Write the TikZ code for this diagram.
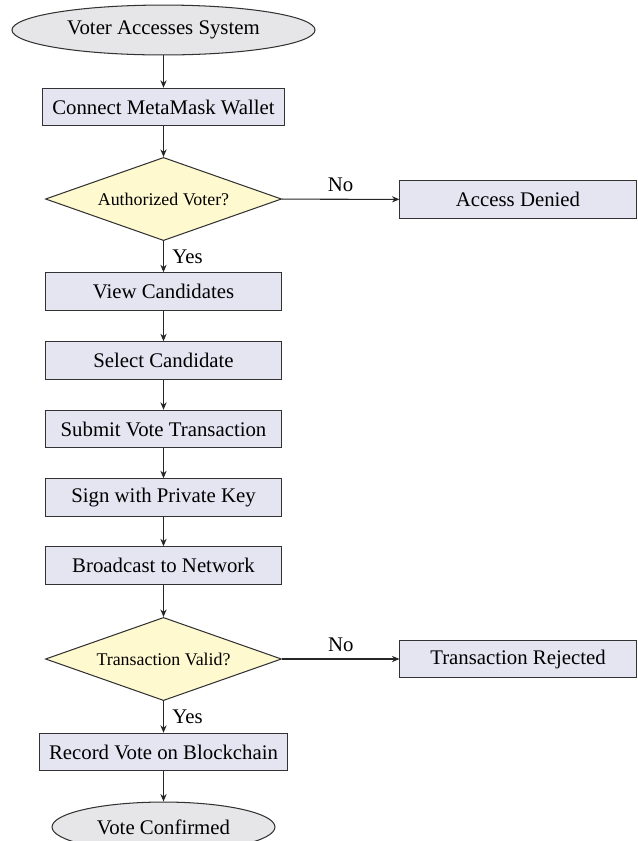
\documentclass[tikz,border=0pt]{standalone}
\usepackage{fontspec}
\setmainfont{Liberation Serif}
\usetikzlibrary{shapes.geometric,arrows.meta}
\definecolor{boxfill}{RGB}{229,229,242}
\definecolor{decfill}{RGB}{255,249,208}
\definecolor{endfill}{RGB}{230,230,232}
\definecolor{edgecol}{RGB}{50,50,50}
\tikzset{
  procbox/.style={rectangle, draw=edgecol, fill=boxfill, line width=0.5pt,
    minimum width=113.5pt, minimum height=18pt, inner xsep=4.5pt, font=\fontsize{10}{12}\selectfont},
  decbox/.style={diamond, aspect=2.8, draw=edgecol, fill=decfill, line width=0.5pt,
    minimum width=113.5pt, minimum height=40pt, inner sep=1pt, font=\fontsize{8.6}{10}\selectfont},
  termbox/.style={ellipse, draw=edgecol, fill=endfill, line width=0.5pt,
    minimum height=24pt, font=\fontsize{10}{12}\selectfont},
  flow/.style={-{Stealth[length=3.6pt,width=3pt]}, line width=0.5pt, draw=black!85},
  lbl/.style={font=\fontsize{10}{12}\selectfont}
}
\begin{document}
\begin{tikzpicture}[x=0.4808pt,y=-0.4808pt]
\useasboundingbox (0,0) rectangle (638,841);
\node[termbox, minimum width=145.7pt] (start) at (163.5,30) {Voter Accesses System};
\node[procbox] (connect) at (163.5,107) {Connect MetaMask Wallet};
\node[decbox] (auth) at (163.5,199) {Authorized Voter?};
\node[procbox] (denied) at (518,199.5) {Access Denied};
\node[procbox] (view) at (163.5,291.5) {View Candidates};
\node[procbox] (select) at (163.5,360.5) {Select Candidate};
\node[procbox] (submit) at (163.5,429) {Submit Vote Transaction};
\node[procbox] (sign) at (163.5,497.5) {Sign with Private Key};
\node[procbox] (bcast) at (163.5,565.5) {Broadcast to Network};
\node[decbox] (valid) at (163.5,659) {Transaction Valid?};
\node[procbox] (reject) at (518,659) {Transaction Rejected};
\node[procbox] (record) at (163.5,752) {Record Vote on Blockchain};
\node[termbox, minimum width=107.2pt] (done) at (163.5,827) {Vote Confirmed};

\draw[flow] (start) -- (connect);
\draw[flow] (connect) -- (auth);
\draw[flow] (auth) -- node[lbl, above] {No} (denied);
\draw[flow] (auth) -- node[lbl, right, inner sep=4pt] {Yes} (view);
\draw[flow] (view) -- (select);
\draw[flow] (select) -- (submit);
\draw[flow] (submit) -- (sign);
\draw[flow] (sign) -- (bcast);
\draw[flow] (bcast) -- (valid);
\draw[flow] (valid) -- node[lbl, above] {No} (reject);
\draw[flow] (valid) -- node[lbl, right, inner sep=4pt] {Yes} (record);
\draw[flow] (record) -- (done);
\end{tikzpicture}
\end{document}
